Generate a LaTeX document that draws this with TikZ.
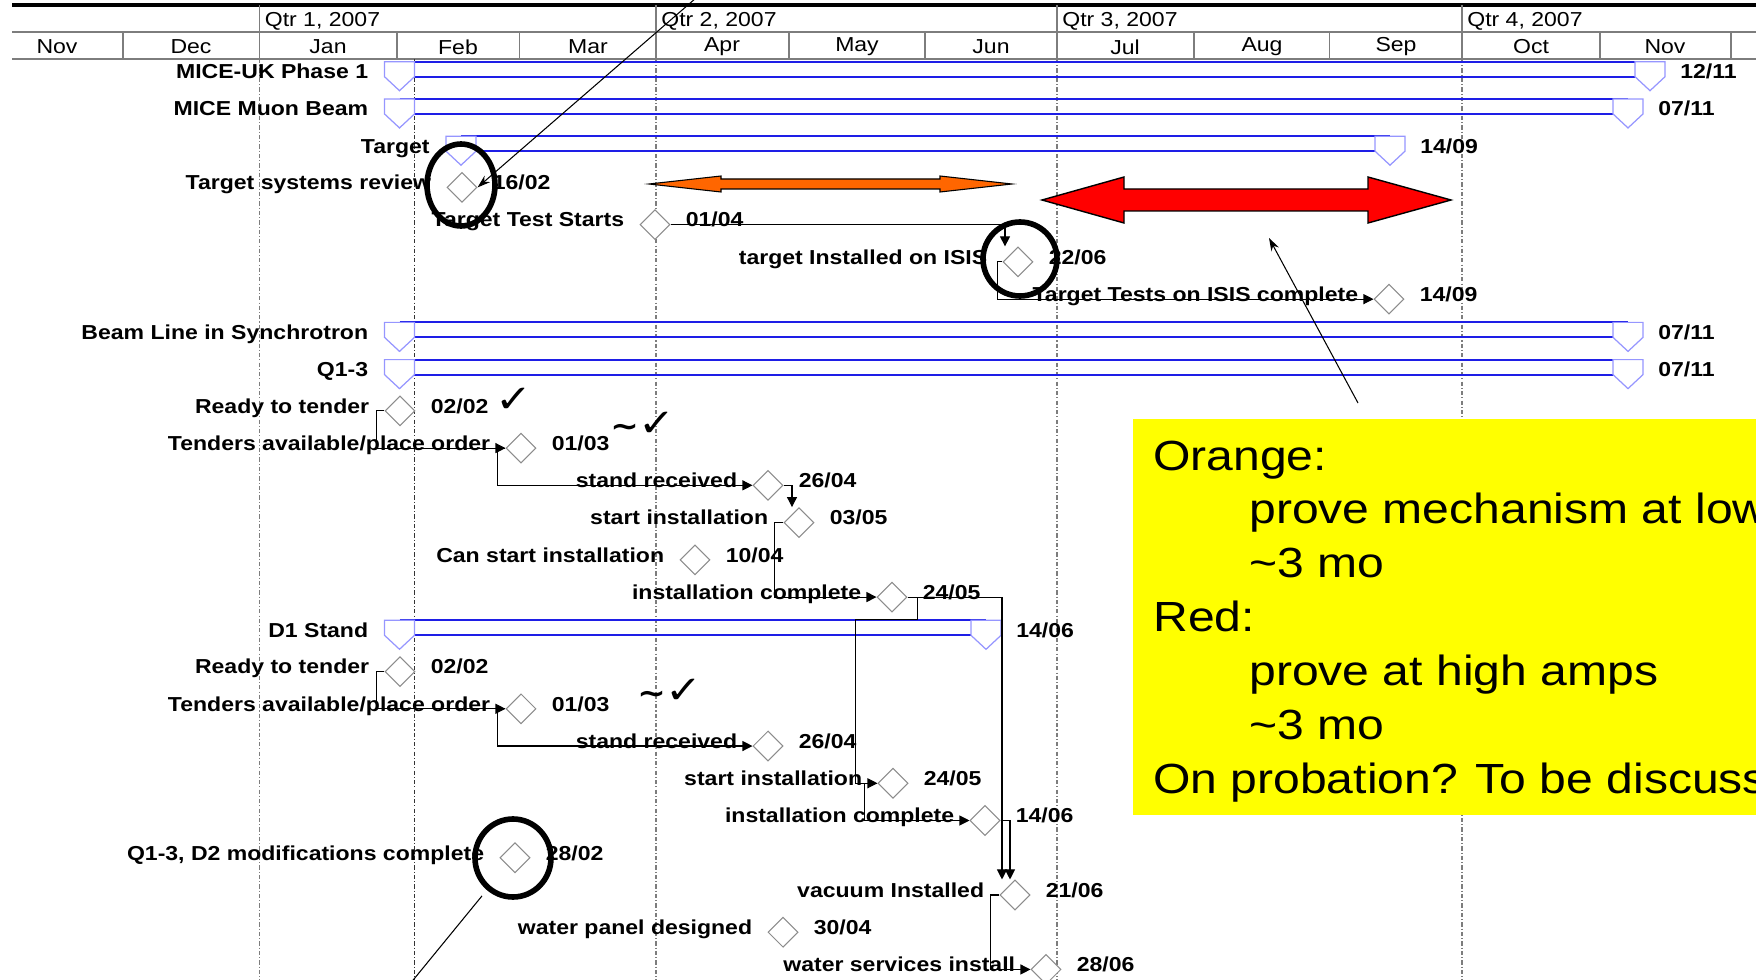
\documentclass[tikz,border=0pt]{standalone}
\usepackage{fontspec}
\setmainfont{Liberation Sans}[FakeStretch=1.14]
\newfontfamily\markfont{DejaVu Sans}[FakeStretch=1.14]
\usetikzlibrary{calc,positioning,shapes.geometric,arrows.meta}
\definecolor{barblue}{RGB}{30,30,230}
\definecolor{capblue}{RGB}{150,150,255}
\definecolor{msgray}{RGB}{140,140,140}
\definecolor{hdrgray}{RGB}{125,125,125}
\definecolor{arrorange}{RGB}{255,102,0}
\definecolor{noteyellow}{RGB}{255,255,0}

\begin{document}
\begin{tikzpicture}[x=0.02cm,y=-0.02cm,
  hdr/.style={font=\fontsize{11.5}{13}\selectfont,inner sep=0pt},
  lbl/.style={font=\fontsize{11.5}{13}\selectfont\bfseries,text height=0.75em,text depth=0.2em,inner sep=0pt},
  ms/.style={diamond,draw=msgray,fill=white,line width=0.6pt,minimum width=0.6cm,minimum height=0.6cm,inner sep=0pt},
  link/.style={line width=0.6pt,-{Triangle[length=0.2cm,width=0.2cm]}},
  ring/.style={ellipse,draw,line width=3.2pt,inner sep=0pt},
  pointer/.style={line width=0.6pt,-{Stealth[length=0.26cm,width=0.17cm]}},
  grid/.style={hdrgray,line width=0.6pt,dash pattern=on 2.4pt off 1.2pt on 0.6pt off 1.2pt},
  chk/.style={font=\markfont\fontsize{22}{22}\selectfont,inner sep=0pt},
  notetxt/.style={font=\fontsize{24}{29}\selectfont,inner sep=0pt}]
  \useasboundingbox (0,0) rectangle (1756,980);
  \clip (0,0) rectangle (1756,980);
  % 表头
  \draw[line width=2.2pt] (12,5) -- (1756,5);
  \draw[hdrgray,line width=1.1pt] (12,32) -- (1756,32) (12,59) -- (1756,59);
  \foreach \x in {259.5,656,1057,1462} \draw[hdrgray,line width=1.1pt] (\x,5) -- (\x,32);
  \foreach \x in {123,259.5,397,519.5,656,789,925,1057,1194,1329.5,1462,1600,1731}
    \draw[hdrgray,line width=1.1pt] (\x,32) -- (\x,59);
  \foreach \x/\qn in {259.5/1,656/2,1057/3,1462/4}
    \node[hdr,anchor=west] (q\qn) at (\x+5,21) {Qtr \qn, 2007};
  \foreach \x/\mon [count=\i] in {57/Nov,191/Dec,328/Jan,458/Feb,588/Mar,722/Apr,857/May,991/Jun,1125/Jul,1262/Aug,1396/Sep,1531/Oct,1665/Nov}
    \node[hdr] (m\i) at (\x,47) {\mon};
  % 网格线与状态日期线
  \foreach \x in {259.5,656,1057,1462} \draw[grid] (\x,59) -- (\x,980);
  \draw[grid,black!80] (414.5,59) -- (414.5,980);
  % 汇总条
  \foreach \id/\xs/\xe/\rw/\txt/\dt in {%
    p1/399.5/1650/1/MICE-UK Phase 1/{12/11},%
    mb/399.5/1628/2/MICE Muon Beam/{07/11},%
    tg/461/1390/3/Target/{14/09},%
    bl/399.5/1628/8/Beam Line in Synchrotron/{07/11},%
    qs/399.5/1628/9/Q1-3/{07/11},%
    ds/399.5/986/16/D1 Stand/{14/06}%
  }{
    \pgfmathsetmacro\yc{71.7+37.24*(\rw-1)}
    \draw[barblue,line width=1.1pt] (\xs,\yc-10) -- (\xe,\yc-10) (\xs,\yc+5) -- (\xe,\yc+5);
    \foreach \xc in {\xs,\xe}
      \draw[capblue,fill=white,line width=0.7pt] (\xc-15,\yc-10) -- (\xc+15,\yc-10) -- (\xc+15,\yc+5) -- (\xc,\yc+19) -- (\xc-15,\yc+5) -- cycle;
    \node[lbl,anchor=east] (\id-l) at (\xs-31,\yc+2) {\txt};
    \node[lbl,anchor=west] (\id-d) at (\xe+30,\yc+2) {\dt};
  }
  % 里程碑
  \foreach \id/\xc/\rw/\txt/\dt in {%
    rv/462/4/Target systems review/{16/02},%
    ts/655/5/Target Test Starts/{01/04},%
    ti/1018/6/target Installed on ISIS/{22/06},%
    tt/1389/7/Target Tests on ISIS complete/{14/09},%
    rta/400/10/Ready to tender/{02/02},%
    taa/521/11/{Tenders available/place order}/{01/03},%
    sra/768/12/stand received/{26/04},%
    sia/799/13/start installation/{03/05},%
    csi/695/14/Can start installation/{10/04},%
    ica/892/15/installation complete/{24/05},%
    rtb/400/17/Ready to tender/{02/02},%
    tab/521/18/{Tenders available/place order}/{01/03},%
    srb/768/19/stand received/{26/04},%
    sib/893/20/start installation/{24/05},%
    icb/985/21/installation complete/{14/06},%
    qd/515/22/{Q1-3, D2 modifications complete}/{28/02},%
    vi/1015/23/vacuum Installed/{21/06},%
    wp/783/24/water panel designed/{30/04},%
    ws/1046/25/water services install/{28/06}%
  }{
    \node[ms] (\id) at (\xc,{71.7+37.24*(\rw-1)+4}) {};
    \node[lbl,left=0.3cm of \id,yshift=0.05cm] (\id-l) {\txt};
    \node[lbl,right=0.3cm of \id,yshift=0.05cm] (\id-d) {\dt};
  }
  % 依赖连线
  \draw[link] (ts.east) -| ($(ti.north)+(-13,0)$);
  \draw[link] (ti.west) -- ++(-5,0) |- (tt.west);
  \draw[link] (rta.west) -- ++(-8,0) |- (taa.west);
  \draw[link] (taa.west) -- ++(-8,0) |- (sra.west);
  \draw[link] (sra.east) -| ($(sia.north)+(-7,0)$);
  \draw[link] (sia.west) -- ++(-9,0) |- (ica.west);
  \draw[link] (ica.east) -- ++(10,0) -- ++(0,22) -| ($(sib.west)+(-22,0)$) -- (sib.west);
  \draw[link] (ica.east) -| ($(vi.north)+(-13,0)$);
  \draw[link] (rtb.west) -- ++(-8,0) |- (tab.west);
  \draw[link] (tab.west) -- ++(-8,0) |- (srb.west);
  \draw[link] (sib.west) -- ++(-13,0) |- (icb.west);
  \draw[link] (icb.east) -| ($(vi.north)+(-5,0)$);
  \draw[link] (vi.west) -- ++(-9,0) |- (ws.west);
  % 橙色与红色双向箭头
  \draw[fill=arrorange,line width=0.6pt] (649,184) -- (721,176) -- (721,179) -- (940,179) -- (940,176) -- (1012,184) -- (940,192) -- (940,189) -- (721,189) -- (721,192) -- cycle;
  \draw[fill=red,line width=0.8pt] (1042,200) -- (1124,177) -- (1124,189) -- (1368,189) -- (1368,177) -- (1451,200) -- (1368,223) -- (1368,211) -- (1124,211) -- (1124,223) -- cycle;
  % 勾号
  \node[chk] (ck1) at (514,400) {✓};
  \node[chk] (ck2) at (643,424) {{\bfseries\fontsize{17}{17}\selectfont\textasciitilde}✓};
  \node[chk] (ck3) at (670,691) {{\bfseries\fontsize{17}{17}\selectfont\textasciitilde}✓};
  % 黄色说明框
  \node[fill=noteyellow,anchor=north west,minimum width=14cm,minimum height=7.92cm,inner sep=0pt] (note) at (1133,419) {};
  \foreach \dx/\notetext [count=\i] in {0/Orange:,96/prove mechanism at low,96/\textasciitilde3 mo,0/Red:,96/prove at high amps,96/\textasciitilde3 mo,0/On probation? To be discuss}
    \node[notetxt,anchor=base west] (n\i) at ($(note.north west)+(20+\dx,{51+53.9*(\i-1)})$) {\notetext};
  % 圈注与指示线
  \node[ring,minimum width=1.36cm,minimum height=1.64cm] (c1) at (461,185) {};
  \node[ring,minimum width=1.48cm,minimum height=1.48cm] (c2) at (1020,259) {};
  \node[ring,minimum width=1.52cm,minimum height=1.56cm] (c3) at (513,858) {};
  \coordinate (pa) at (696,-2);
  \draw[pointer] (pa) -- (rv.east);
  \coordinate (pb) at (1269,238);
  \draw[pointer] ($(note.north west)+(225,-16)$) -- (pb);
  \coordinate (pc) at (405,990);
  \draw[line width=0.6pt,shorten <=0.15cm] (c3) -- (pc);
\end{tikzpicture}
\end{document}
